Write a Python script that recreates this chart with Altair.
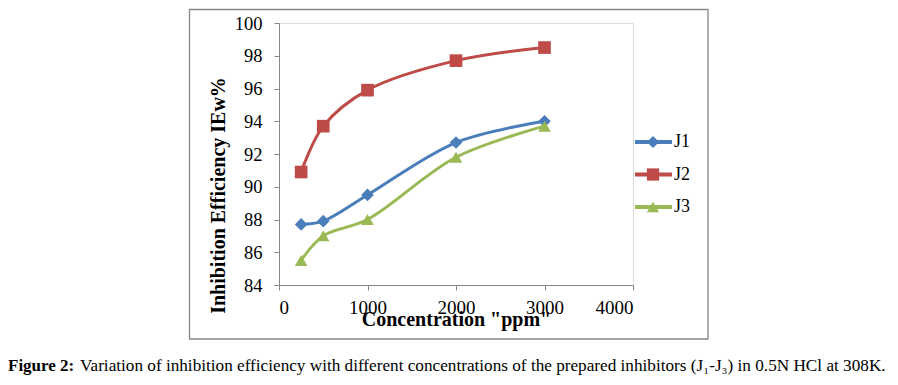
import altair as alt
import pandas as pd

series = ["J1", "J2", "J3"]
concentrations = [250, 500, 1000, 2000, 3000]
j1_values = [87.7, 87.9, 89.5, 92.7, 94.0]
j2_values = [90.9, 93.7, 95.9, 97.7, 98.5]
j3_values = [85.5, 87.0, 88.0, 91.8, 93.7]
y_ticks = [84, 86, 88, 90, 92, 94, 96, 98, 100]
x_ticks = [0, 1000, 2000, 3000, 4000]
colors = ["#4A7EBB", "#BE4B48", "#98B954"]
shapes = ["diamond", "square", "triangle-up"]
caption_bold = "Figure 2:"
caption_rest = ("Variation of inhibition efficiency with different concentrations of the "
                "prepared inhibitors (J\u2081-J\u2083) in 0.5N HCl at 308K.")

rows = []
for name, vals in zip(series, [j1_values, j2_values, j3_values]):
    for c, v in zip(concentrations, vals):
        rows.append({"series": name, "conc": c, "ie": v})
df = pd.DataFrame(rows)
leg_df = pd.DataFrame({"series": series})

FONT = "Liberation Serif"
AX = "#868686"

color = alt.Color("series:N", scale=alt.Scale(domain=series, range=colors), legend=None)
shape = alt.Shape("series:N", scale=alt.Scale(domain=series, range=shapes), legend=None)

xaxis = alt.Axis(values=x_ticks, format="d", title='Concentration "ppm"', grid=False,
                 domainColor=AX, tickColor=AX, tickSize=5, labelOverlap=False,
                 labelFont=FONT, labelFontSize=19, labelColor="black",
                 labelBaseline="alphabetic", labelPadding=23,
                 titleFont=FONT, titleFontSize=20, titleFontWeight="bold",
                 titleColor="black", titleBaseline="alphabetic", titleY=40)
yaxis = alt.Axis(values=y_ticks, title="Inhibition Efficiency IEw%", grid=False,
                 domainColor=AX, tickColor=AX, tickSize=5, labelOverlap=False,
                 labelFont=FONT, labelFontSize=18.5, labelColor="black",
                 labelPadding=12,
                 titleFont=FONT, titleFontSize=20, titleFontWeight="bold",
                 titleColor="black", titleAngle=270, titleAlign="center",
                 titleBaseline="middle", titleX=-61, titleY=172)
xscale = alt.Scale(domain=[0, 4000], nice=False)
yscale = alt.Scale(domain=[84, 100], nice=False, zero=False)

lines = alt.Chart(df).mark_line(strokeWidth=3, interpolate="catmull-rom").encode(
    x=alt.X("conc:Q", scale=xscale, axis=xaxis),
    y=alt.Y("ie:Q", scale=yscale, axis=yaxis),
    color=color, detail="series:N")
points = alt.Chart(df).mark_point(filled=True, size=160, opacity=1).encode(
    x=alt.X("conc:Q", scale=xscale, axis=xaxis),
    y=alt.Y("ie:Q", scale=yscale, axis=yaxis),
    color=color, shape=shape)
main = alt.layer(lines, points).resolve_scale(y="shared")

ly = alt.Y("series:N",
           scale=alt.Scale(type="point", domain=series, range=[119, 184], padding=0),
           axis=None)
leg_rule = alt.Chart(leg_df).mark_rule(strokeWidth=4).encode(
    x=alt.value(356), x2=alt.value(393), y=ly, color=color)
leg_pts = alt.Chart(leg_df).mark_point(filled=True, size=150, opacity=1).encode(
    x=alt.value(374), y=ly, color=color, shape=shape)
leg_txt = alt.Chart(leg_df).mark_text(align="left", baseline="middle", font=FONT,
                                      fontSize=18, color="black").encode(
    x=alt.value(395), y=ly, text="series:N")
legend = alt.layer(leg_rule, leg_pts, leg_txt).resolve_scale(y="shared")

frame = alt.Chart(pd.DataFrame({"k": [0]})).mark_rect(
    fill=None, stroke=AX, strokeWidth=1.3).encode(
    x=alt.value(-89.5), x2=alt.value(429), y=alt.value(-13.5), y2=alt.value(316))

cap1 = alt.Chart(pd.DataFrame({"t": [caption_bold]})).mark_text(
    align="left", baseline="alphabetic", font=FONT, fontSize=17, fontWeight="bold",
    color="black").encode(x=alt.value(-271), y=alt.value(348), text="t:N")
cap2 = alt.Chart(pd.DataFrame({"t": [caption_rest]})).mark_text(
    align="left", baseline="alphabetic", font=FONT, fontSize=17.2,
    color="black").encode(x=alt.value(-199), y=alt.value(348), text="t:N")

chart = alt.layer(frame, main, legend, cap1, cap2).resolve_scale(
    y="independent"
).properties(
    width=354, height=262,
    autosize=alt.AutoSizeParams(type="none"),
    padding={"left": 271, "top": 15, "right": 257, "bottom": 92},
).configure_view(stroke=None).configure(background="white")

chart.save("out.html", embed_options={"renderer": "svg", "actions": False})
